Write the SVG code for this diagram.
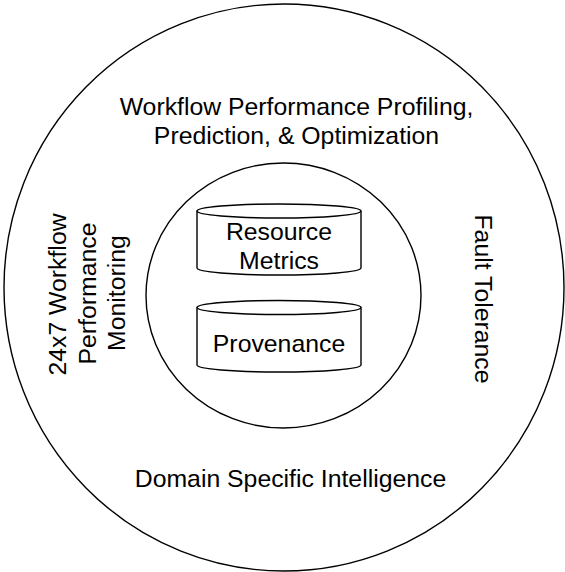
<svg xmlns="http://www.w3.org/2000/svg" width="565" height="572" viewBox="0 0 565 572">
<style>
.ln{fill:none;stroke:#000;stroke-width:1.4}
.cyl{fill:#fff;stroke:#000;stroke-width:1.4}
text{font-family:"Liberation Sans",Arial,Helvetica,sans-serif;font-size:24.8px;fill:#000;text-anchor:middle}
</style>
<rect width="565" height="572" fill="#fff"/>
<g id="outer">
<ellipse class="ln" cx="284" cy="287.5" rx="280" ry="283.5"/>
<text x="296.5" y="115">Workflow Performance Profiling,</text>
<text x="296.5" y="144">Prediction, &amp; Optimization</text>
<text x="290.5" y="487">Domain Specific Intelligence</text>
<text transform="translate(66,294.5) rotate(-90)">24x7 Workflow</text>
<text transform="translate(95.5,293.5) rotate(-90)">Performance</text>
<text transform="translate(125,293) rotate(-90)">Monitoring</text>
<text transform="translate(475,299) rotate(90)">Fault Tolerance</text>
</g>
<g id="inner">
<ellipse class="ln" cx="283.5" cy="295.5" rx="137.5" ry="132.5"/>
</g>
<g id="resource-metrics">
<path class="cyl" d="M197,211 L197,268 A82,7 0 0 0 361,268 L361,211 A82,7 0 0 0 197,211 Z"/>
<path class="ln" d="M197,211 A82,7 0 0 0 361,211"/>
<text x="279" y="240">Resource</text>
<text x="279" y="269">Metrics</text>
</g>
<g id="provenance">
<path class="cyl" d="M197,307.5 L197,365 A82,7 0 0 0 361,365 L361,307.5 A82,7 0 0 0 197,307.5 Z"/>
<path class="ln" d="M197,307.5 A82,7 0 0 0 361,307.5"/>
<text x="279" y="352">Provenance</text>
</g>
<g id="connectors"></g>
</svg>
